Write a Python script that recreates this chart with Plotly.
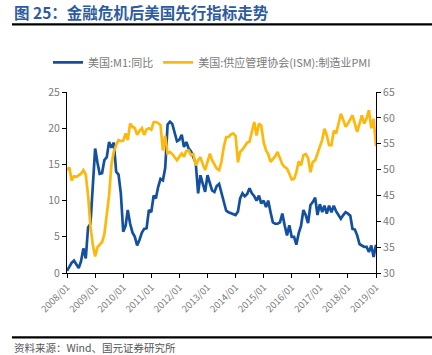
import pandas as pd
import plotly.graph_objects as go

dates = pd.date_range("2008-01-01", periods=133, freq="MS")

m1_yoy = [
    0.3, 0.8, 1.4, 1.7, 1.2, 0.7, 1.6, 3.4, 2.0, 6.3, 6.8, 12.0,
    17.2, 15.2, 13.7, 13.8, 15.6, 16.0, 18.1, 17.3, 18.0, 14.0, 13.6, 11.0,
    5.7, 6.5, 8.7, 6.8, 5.6, 5.0, 3.8, 4.6, 5.6, 6.1, 6.2, 8.7,
    8.4, 10.7, 10.3, 11.9, 13.0, 12.8, 14.5, 20.5, 20.9, 20.6, 19.5, 18.2,
    18.4, 19.1, 17.4, 18.1, 17.2, 16.8, 16.0, 15.2, 11.0, 13.5, 12.3, 11.2,
    13.5, 12.3, 11.4, 11.2, 12.0, 12.3, 11.0, 9.6, 8.6, 8.4, 8.3, 8.2,
    8.0, 8.5, 10.3, 11.0, 10.6, 10.9, 11.7, 11.0, 10.6, 10.0, 10.7, 9.6,
    10.0, 9.1, 10.0, 8.4, 7.0, 6.8, 6.8, 7.0, 8.2, 6.6, 5.2, 6.6,
    5.0, 5.0, 3.9, 5.5, 6.5, 8.7, 8.0, 6.9, 9.4, 9.8, 10.4, 8.0,
    9.5, 8.4, 9.3, 8.2, 9.3, 8.4, 9.3, 8.5, 8.0, 7.5, 8.0, 8.4,
    8.2, 7.9, 6.1, 6.0, 5.2, 4.0, 3.8, 3.6, 3.6, 2.9, 3.8, 2.2,
    3.9,
]

ism_pmi = [
    49.9, 50.4, 47.9, 48.7, 48.6, 48.9, 49.2, 49.9, 49.0, 45.0, 39.0, 35.5,
    33.2, 35.0, 35.5, 36.0, 37.5, 40.8, 45.0, 51.0, 53.5, 54.7, 55.7, 55.5,
    55.6, 57.0, 55.7, 58.9, 58.3, 58.0, 56.7, 57.5, 58.0, 56.7, 57.8, 58.0,
    57.7, 59.2, 59.2, 59.0, 58.6, 53.7, 56.5, 53.1, 53.4, 53.0, 52.4, 51.8,
    52.5, 53.1, 52.5, 53.6, 53.7, 52.8, 53.0, 50.8, 51.8, 52.4, 51.0, 49.9,
    51.5, 53.1, 51.8, 50.9, 50.2, 49.9, 51.5, 54.4, 56.3, 56.3, 56.8, 57.0,
    56.5, 51.4, 53.4, 53.9, 54.5, 55.2, 55.4, 57.6, 59.2, 56.6, 58.9, 58.5,
    55.3, 53.7, 53.0, 51.5, 52.0, 52.6, 53.4, 52.2, 51.0, 50.5, 50.2, 49.2,
    48.1, 48.2, 49.5, 51.6, 50.8, 52.8, 53.0, 52.2, 49.5, 51.5, 51.8, 53.1,
    54.6, 55.8, 57.9, 56.6, 54.7, 54.7, 57.5, 57.0, 58.9, 60.8, 59.6, 58.3,
    58.9, 59.9, 60.5, 58.9, 57.3, 58.9, 60.5, 58.9, 59.9, 61.5, 58.0, 59.8,
    54.5,
]

name_m1 = "美国:M1:同比"
name_pmi = "美国:供应管理协会(ISM):制造业PMI"
title_text = "图 25：金融危机后美国先行指标走势"
source_text = "资料来源：Wind、国元证券研究所"

BLUE = "#1450A0"
YELLOW = "#FFB80A"
FONT = "Noto Sans CJK SC, Liberation Sans, Arial, sans-serif"

fig = go.Figure()
fig.add_trace(go.Scatter(x=dates, y=m1_yoy, name=name_m1, mode="lines",
                         line=dict(color=BLUE, width=2.7), yaxis="y"))
fig.add_trace(go.Scatter(x=dates, y=ism_pmi, name=name_pmi, mode="lines",
                         line=dict(color=YELLOW, width=2.7), yaxis="y2"))

# geometry of plot area in pixels
L, R, T, B = 67, 375.7, 91.7, 272.7
W, H = 432, 355
pw, ph = R - L, B - T

def px(x):
    return (x - L) / pw

def py(y):
    return (B - y) / ph

fig.update_layout(
    width=W, height=H, autosize=False,
    margin=dict(l=L, r=W - R, t=T, b=H - B, pad=0),
    paper_bgcolor="white", plot_bgcolor="white",
    font=dict(family=FONT, size=10, color="#7a7a7a"),
    showlegend=True,
    legend=dict(orientation="h", x=px(48), y=py(62), xanchor="left", yanchor="middle",
                font=dict(size=11, color="#7a7a7a"), bgcolor="rgba(0,0,0,0)",
                itemwidth=30, tracegroupgap=0),
    xaxis=dict(type="date", range=[dates[0], dates[-1]], dtick="M12",
               tick0="2008-01-01", tickformat="%Y/%m", tickangle=-45,
               showgrid=False, zeroline=False, showline=True, linecolor="black",
               linewidth=1, ticks="outside", ticklen=4, tickcolor="black",
               tickfont=dict(size=9.5, color="#7a7a7a")),
    yaxis=dict(range=[0, 25], dtick=5, showgrid=False, zeroline=False,
               showline=True, linecolor="black", linewidth=1, ticks="outside",
               ticklen=4, tickcolor="black", tickfont=dict(size=10.5, color="#7a7a7a")),
    yaxis2=dict(range=[30, 65], dtick=5, overlaying="y", side="right",
                showgrid=False, zeroline=False, showline=True, linecolor="black",
                linewidth=1, ticks="outside", ticklen=4, tickcolor="black",
                tickfont=dict(size=10.5, color="#7a7a7a")),
    shapes=[
        dict(type="line", xref="paper", yref="paper", x0=px(12), x1=px(432),
             y0=py(24), y1=py(24), line=dict(color="black", width=2.2)),
        dict(type="line", xref="paper", yref="paper", x0=px(12), x1=px(432),
             y0=py(337), y1=py(337), line=dict(color="black", width=2.2)),
    ],
    annotations=[
        dict(text="<b>" + title_text + "</b>", xref="paper", yref="paper",
             x=px(12), y=py(12), xanchor="left", yanchor="middle", showarrow=False,
             font=dict(size=15.5, color="#2E5B9E", family=FONT)),
        dict(text=source_text, xref="paper", yref="paper",
             x=px(12), y=py(347), xanchor="left", yanchor="middle", showarrow=False,
             font=dict(size=10.5, color="#555555", family=FONT)),
    ],
)

fig.write_html("out.html", config={"displayModeBar": False},
               post_script="document.body.style.margin='0';document.body.style.overflow='hidden';")
